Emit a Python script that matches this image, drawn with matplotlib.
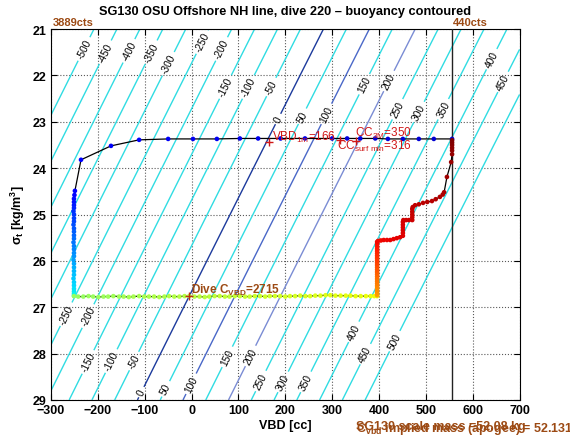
#!/usr/bin/env python3
# -*- coding: utf-8 -*-
"""
Buoyancy contoured VBD vs sigma_t plot for SG130 dive 220.
"""

import numpy as np
import matplotlib
matplotlib.use('Agg')
import matplotlib.pyplot as plt

plt.rcParams['font.family'] = 'Liberation Sans'
plt.rcParams['mathtext.fontset'] = 'custom'
plt.rcParams['mathtext.rm'] = 'Liberation Sans'
plt.rcParams['mathtext.it'] = 'Liberation Sans:italic'
plt.rcParams['mathtext.bf'] = 'Liberation Sans:bold'
plt.rcParams['mathtext.default'] = 'regular'

# --- vehicle numbers ---
mass_g = 52131.0          # C_vbd implied mass (apogee)
vbd_neutral = -5.0        # Dive C_VBD point
sigma_neutral = 26.76
vbd_max = 556             # 440 cts
vbd_1m = 166
cc_3m = 350
cc_surf_min = 316

levels = np.arange(-500, 501, 50)
top_lab = {-500: 21.43, -450: 21.50, -400: 21.47, -350: 21.50, -300: 21.75,
           -250: 21.28, -200: 21.43, -150: 22.25, -100: 22.25, -50: 22.25,
           0: 22.94, 50: 22.88, 100: 22.83, 150: 22.19, 200: 22.12,
           250: 22.73, 300: 22.79, 350: 22.73, 400: 21.65, 450: 22.14}
bot_lab = {-250: 27.15, -200: 27.19, -150: 28.18, -100: 28.16, -50: 28.16,
           0: 28.83, 50: 28.76, 100: 28.65, 150: 28.07, 200: 28.05,
           250: 28.59, 300: 28.61, 350: 28.61, 400: 27.53, 450: 28.01,
           500: 27.73}

# --- track (VBD [cc], sigma_t) ---
surf_vbd = [556, 517, 485, 451, 419, 392, 360, 332, 300, 242, 190, 142, 103,
            54, 3, -50, -112, -172, -236]
surf_sig = [23.37, 23.37, 23.37, 23.37, 23.37, 23.36, 23.36, 23.36, 23.36,
            23.36, 23.36, 23.36, 23.36, 23.37, 23.37, 23.37, 23.39, 23.52, 23.82]

desc_vbd = [-249, -250, -251, -251, -251, -251, -252, -251, -251, -251, -252,
            -251, -251, -251, -251, -252, -251, -251, -251, -251, -252, -251,
            -251, -251, -251, -252, -251, -251, -251, -251, -251, -251]
desc_sig = [24.49, 24.58, 24.66, 24.73, 24.80, 24.86, 24.93, 25.00, 25.08,
            25.15, 25.22, 25.30, 25.37, 25.45, 25.52, 25.60, 25.68, 25.75,
            25.83, 25.90, 25.98, 26.06, 26.14, 26.22, 26.30, 26.38, 26.46,
            26.53, 26.60, 26.66, 26.71, 26.75]

pump_vbd = [-251, -242, -231, -220, -210, -199, -188, -178, -167, -155, -145,
            -134, -124, -112, -101, -91, -80, -69, -58, -48, -37, -26, -15,
            -5, 6, 17, 28, 38, 49, 60, 71, 81, 92, 103, 114, 124, 135, 146,
            157, 167, 178, 189, 200, 210, 221, 232, 243, 253, 264, 275, 286,
            296, 307, 318, 329, 339, 350, 361, 372, 382, 390, 396]
pump_sig = [26.76, 26.77, 26.77, 26.76, 26.77, 26.78, 26.77, 26.77, 26.76,
            26.77, 26.77, 26.78, 26.77, 26.76, 26.77, 26.77, 26.77, 26.78,
            26.77, 26.76, 26.77, 26.77, 26.76, 26.76, 26.77, 26.77, 26.78,
            26.77, 26.76, 26.76, 26.77, 26.77, 26.76, 26.76, 26.77, 26.77,
            26.76, 26.76, 26.77, 26.76, 26.76, 26.76, 26.77, 26.76, 26.76,
            26.75, 26.76, 26.76, 26.75, 26.75, 26.74, 26.74, 26.75, 26.75,
            26.75, 26.75, 26.76, 26.76, 26.76, 26.76, 26.76, 26.76]

climb_vbd = [396, 396, 396, 396, 396, 396, 396, 396, 396, 396, 396, 396, 396,
             396, 396, 396, 396, 396, 396, 396, 396, 396, 396, 396]
climb_sig = [26.74, 26.69, 26.64, 26.59, 26.54, 26.49, 26.44, 26.39, 26.34,
             26.29, 26.24, 26.19, 26.14, 26.09, 26.04, 25.99, 25.94, 25.89,
             25.84, 25.79, 25.74, 25.69, 25.64, 25.59]

step_vbd = [398, 404, 410, 417, 424, 431, 438, 445, 451, 451, 451, 451, 451,
            451, 452, 458, 464, 471, 471, 471, 471, 471, 472, 477, 485, 494,
            503, 513, 521, 530, 536, 539]
step_sig = [25.57, 25.56, 25.55, 25.55, 25.55, 25.53, 25.51, 25.49, 25.46,
            25.40, 25.34, 25.28, 25.22, 25.16, 25.12, 25.12, 25.12, 25.12,
            25.06, 25.00, 24.94, 24.88, 24.84, 24.80, 24.78, 24.75, 24.73,
            24.71, 24.67, 24.62, 24.57, 24.52]

top_vbd = [545, 554, 556, 556, 556, 556, 556, 556]
top_sig = [24.19, 23.87, 23.70, 23.62, 23.56, 23.50, 23.45, 23.40]

# jet colour span of each leg of the dive
legs = [(surf_vbd, surf_sig, 0.07, 0.11),
        (desc_vbd, desc_sig, 0.12, 0.37),
        (pump_vbd, pump_sig, 0.53, 0.64),
        (climb_vbd, climb_sig, 0.74, 0.90),
        (step_vbd, step_sig, 0.90, 0.96),
        (top_vbd, top_sig, 0.97, 1.00)]

red = '#d01818'
brown = '#9c4a14'
cyan = '#30dce2'


def vbd_for(B, sig, V0):
    return (B + mass_g) / (1.0 + sig / 1000.0) - V0


fig = plt.figure(figsize=(5.7, 4.39), dpi=100)
ax = fig.add_axes([0.0895, 0.0866, 0.822, 0.845])
ax.set_xlim(-300, 700)
ax.set_ylim(29, 21)

# buoyancy field
V0 = mass_g / (1.0 + sigma_neutral / 1000.0) - vbd_neutral
vg, sg = np.meshgrid(np.linspace(-300, 700, 401), np.linspace(21, 29, 161))
buoy = (V0 + vg) * (1.0 + sg / 1000.0) - mass_g
colors = []
for L in levels:
    if L == 0:
        colors.append('#1c3a9c')
    elif L == 100:
        colors.append('#4a68c8')
    elif L == 200:
        colors.append('#7a8cd4')
    else:
        colors.append(cyan)
cs = ax.contour(vg, sg, buoy, levels=levels, colors=colors, linewidths=1.0,
                zorder=2)
pos = [(vbd_for(L, s, V0), s) for L, s in top_lab.items()]
pos += [(vbd_for(L, s, V0), s) for L, s in bot_lab.items()]
ax.clabel(cs, manual=pos, inline=True, inline_spacing=3, fontsize=7.3,
          fmt='%d', colors='k')

ax.axvline(vbd_max, color='#222222', lw=1.0, zorder=3)

# track
all_v, all_s, all_c = [], [], []
for v, s, c0, c1 in legs:
    all_v += v
    all_s += s
    all_c += list(np.linspace(c0, c1, len(v)))
ax.plot(all_v, all_s, '-', color='k', lw=0.9, zorder=4)
ax.scatter(all_v, all_s, c=all_c, cmap='jet', vmin=0, vmax=1, marker='o',
           s=11, edgecolors='none', zorder=5)

# annotations
ax.plot([vbd_1m, cc_surf_min, cc_3m], [23.44, 23.40, 23.42], '+', color=red,
        ms=6, mew=1.0, zorder=7)
ax.text(172, 23.39, r'VBD$_{1m}$=%d' % vbd_1m, color=red, fontsize=8.5,
        zorder=8)
ax.text(349, 23.31, r'CC$_{3M}$=%d' % cc_3m, color=red, fontsize=8.5, zorder=8)
ax.text(310, 23.59, r'CC$_{surf\ min}$=%d' % cc_surf_min, color=red,
        fontsize=8.5, zorder=8)
ax.plot([vbd_neutral], [sigma_neutral], '+', color='#c03010', ms=6, mew=1.0,
        zorder=7)
ax.text(-2, 26.68, r'Dive C$_{VBD}$=2715', color=brown, fontsize=8.5,
        fontweight='bold', zorder=8)
ax.text(-297, 20.96, '3889cts', color=brown, fontsize=8, fontweight='bold',
        va='bottom')
ax.text(vbd_max + 1, 20.96, '440cts', color=brown, fontsize=8,
        fontweight='bold', va='bottom')
ax.text(351, 29.62, 'SG130 scale mass =52.08 kg', color=brown, fontsize=9,
        fontweight='bold', clip_on=False)
ax.text(351, 29.66, r'C$_{vbd}$ implied mass (apogee) = 52.131', color=brown,
        fontsize=9, fontweight='bold', clip_on=False)

ax.set_xticks(np.arange(-300, 701, 100))
ax.set_yticks(np.arange(21, 30, 1))
ax.grid(True, linestyle=':', color='0.35', lw=0.8)
ax.set_axisbelow(True)
ax.tick_params(direction='in', top=True, right=True, length=4, labelsize=9,
               pad=3)
for lbl in ax.get_xticklabels() + ax.get_yticklabels():
    lbl.set_fontweight('bold')
ax.set_xlabel('VBD [cc]', fontsize=9, fontweight='bold', labelpad=2)
ax.set_ylabel(r'$\sigma_t$ [kg/m$^3$]', fontsize=9, fontweight='bold',
              labelpad=4)
ax.set_title('SG130 OSU Offshore NH line, dive 220 \u2013 buoyancy contoured',
             fontsize=9.2, fontweight='bold', pad=11)

fig.savefig('out.png', dpi=100)
